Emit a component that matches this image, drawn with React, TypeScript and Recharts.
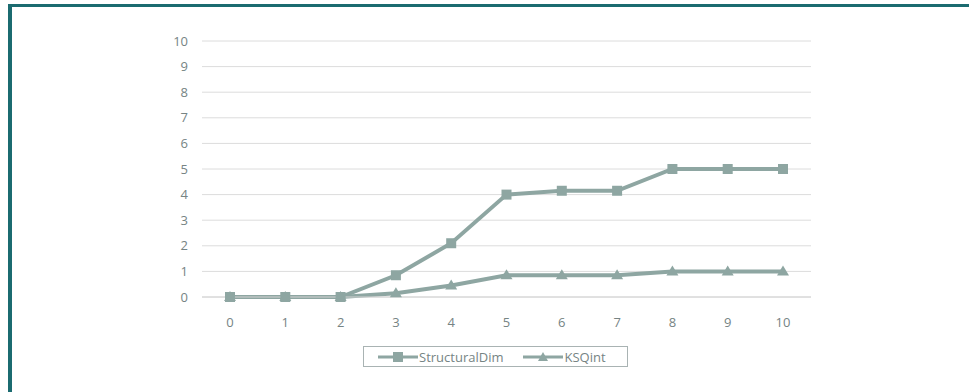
import React from "react";
import { LineChart, Line, XAxis, YAxis, CartesianGrid, Legend } from "recharts";

const categories = ["0", "1", "2", "3", "4", "5", "6", "7", "8", "9", "10"];
const structuralDim = [0, 0, 0, 0.85, 2.1, 4, 4.15, 4.15, 5, 5, 5];
const ksqInt = [0, 0, 0, 0.15, 0.45, 0.85, 0.85, 0.85, 1, 1, 1];
const yTicks = [0, 1, 2, 3, 4, 5, 6, 7, 8, 9, 10];

const data = categories.map((c, i) => ({
  name: c,
  StructuralDim: structuralDim[i],
  KSQint: ksqInt[i],
}));

const SERIES_COLOR = "#8ea6a2";
const TEXT_COLOR = "#768484";
const FONT = "'Open Sans', 'Liberation Sans', sans-serif";

const SquareDot = (props: any) => {
  const { cx, cy } = props;
  if (cx == null || cy == null) return null;
  return <rect x={cx - 5} y={cy - 5} width={10} height={10} fill={SERIES_COLOR} />;
};

const TriangleDot = (props: any) => {
  const { cx, cy } = props;
  if (cx == null || cy == null) return null;
  return (
    <polygon
      points={`${cx},${cy - 6} ${cx + 6},${cy + 4} ${cx - 6},${cy + 4}`}
      fill={SERIES_COLOR}
    />
  );
};

const LegendBox = () => (
  <div
    style={{
      border: "1px solid #a9b3b3",
      width: 265,
      height: 21,
      boxSizing: "border-box",
      display: "flex",
      alignItems: "center",
      fontFamily: FONT,
      fontSize: 13,
      color: TEXT_COLOR,
      background: "#fff",
    }}
  >
    <svg width={40} height={12} style={{ marginLeft: 14 }}>
      <line x1={0} y1={6} x2={40} y2={6} stroke={SERIES_COLOR} strokeWidth={3} />
      <rect x={15} y={1} width={10} height={10} fill={SERIES_COLOR} />
    </svg>
    <span style={{ marginLeft: 1 }}>StructuralDim</span>
    <svg width={40} height={12} style={{ marginLeft: 20 }}>
      <line x1={0} y1={6} x2={40} y2={6} stroke={SERIES_COLOR} strokeWidth={3} />
      <polygon points="20,1 25,10 15,10" fill={SERIES_COLOR} />
    </svg>
    <span style={{ marginLeft: 1 }}>KSQint</span>
  </div>
);

export default function App() {
  return (
    <div
      style={{
        position: "fixed",
        left: 0,
        top: 0,
        width: 969,
        height: 392,
        background: "#fff",
        overflow: "hidden",
      }}
    >
      <LineChart
        width={969}
        height={392}
        data={data}
        margin={{ top: 41, right: 158, bottom: 30, left: 142 }}
      >
        <CartesianGrid vertical={false} stroke="#dcdcdc" strokeWidth={1} />
        <XAxis
          dataKey="name"
          axisLine={{ stroke: "#d4d4d4" }}
          tickLine={false}
          tickSize={0}
          tickMargin={21}
          padding={{ left: 28, right: 28 }}
          height={44}
          tick={{ fill: TEXT_COLOR, fontSize: 13, fontFamily: FONT }}
        />
        <YAxis
          domain={[0, 10]}
          ticks={yTicks}
          interval={0}
          axisLine={false}
          tickLine={false}
          tickSize={0}
          tickMargin={14}
          width={60}
          tick={{ fill: TEXT_COLOR, fontSize: 13, fontFamily: FONT }}
        />
        <Legend
          verticalAlign="bottom"
          content={() => <LegendBox />}
          wrapperStyle={{ position: "absolute", left: 363, top: 346, width: 265, bottom: "auto" }}
        />
        <Line
          type="linear"
          dataKey="StructuralDim"
          stroke={SERIES_COLOR}
          strokeWidth={4}
          dot={<SquareDot />}
          activeDot={false}
          isAnimationActive={false}
        />
        <Line
          type="linear"
          dataKey="KSQint"
          stroke={SERIES_COLOR}
          strokeWidth={4}
          dot={<TriangleDot />}
          activeDot={false}
          isAnimationActive={false}
        />
      </LineChart>
      {/* frame lines along the top and left edges */}
      <div
        style={{
          position: "absolute",
          left: 8,
          top: 4,
          right: 0,
          bottom: 0,
          borderTop: "3px solid #1b6b70",
          borderLeft: "4px solid #1b6b70",
          pointerEvents: "none",
        }}
      />
    </div>
  );
}
